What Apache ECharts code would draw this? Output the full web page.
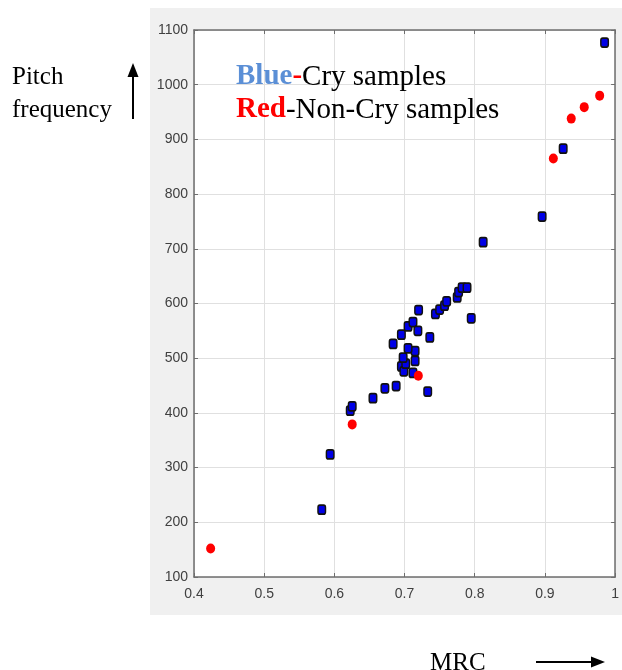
<!DOCTYPE html>
<html>
<head>
<meta charset="utf-8">
<script src="https://cdn.jsdelivr.net/npm/echarts@6/dist/echarts.min.js"></script>
<style>
html,body{margin:0;padding:0;background:#fff;}
#c{width:622px;height:670px;}
</style>
</head>
<body>
<div id="c"></div>
<script>
// Cry samples (blue)
const cryMRC   = [0.582,0.594,0.6226,0.6254,0.655,0.672,0.688,0.733,0.6955,0.699,0.7017,0.698,0.712,0.715,0.715,0.705,0.6837,0.6955,0.705,0.712,0.719,0.736,0.72,0.744,0.75,0.757,0.76,0.775,0.777,0.782,0.789,0.795,0.812,0.896,0.926,0.985];
const cryPitch = [223,324,404,412,427,445,449,439,485,476,490,501,473,495,513,518,526,543,558,566,550,538,588,581,589,596,604,611,621,629,629,573,712,759,883,1077];
// Non-Cry samples (red)
const nonCryMRC   = [0.4237,0.6254,0.7196,0.912,0.9375,0.956,0.978];
const nonCryPitch = [152,379,468,865,938,959,980];
// Axis ticks
const xTicks = [0.4,0.5,0.6,0.7,0.8,0.9,1];
const yTicks = [100,200,300,400,500,600,700,800,900,1000,1100];

const cryData = cryMRC.map((x,i)=>[x,cryPitch[i]]);
const nonCryData = nonCryMRC.map((x,i)=>[x,nonCryPitch[i]]);

const chart = echarts.init(document.getElementById('c'));
const axisCol = '#6e6e6e';
const serif = 'Liberation Serif, serif';
const labelStyle = {color:'#404040', fontFamily:'Liberation Sans, Arial, sans-serif', fontSize:14};
const fmtX = v => { const r = Math.round(v*10)/10; return xTicks.indexOf(r) >= 0 ? (r===1?'1':r.toFixed(1)) : ''; };

chart.setOption({
  animation:false,
  backgroundColor:'#ffffff',
  graphic:[
    {type:'rect', z:-10, shape:{x:150,y:8,width:472,height:607}, style:{fill:'#f0f0f0'}},
    // Legend-like annotation
    {type:'text', z:100, x:236, y:77, style:{
      text:'{b|Blue}{d|-}{n|Cry samples}', verticalAlign:'middle',
      rich:{
        b:{fontFamily:serif, fontSize:29, fontWeight:'bold', fill:'#5b8fd6'},
        d:{fontFamily:serif, fontSize:29, fontWeight:'bold', fill:'#ff0000'},
        n:{fontFamily:serif, fontSize:29, fill:'#000'}
      }}},
    {type:'text', z:100, x:236, y:110, style:{
      text:'{r|Red}{n|-Non-Cry samples}', verticalAlign:'middle',
      rich:{
        r:{fontFamily:serif, fontSize:29, fontWeight:'bold', fill:'#ff0000'},
        n:{fontFamily:serif, fontSize:29, fill:'#000'}
      }}},
    // Y axis title with arrow
    {type:'text', x:12, y:77, style:{text:'Pitch', verticalAlign:'middle', fontFamily:serif, fontSize:25, fill:'#000'}},
    {type:'text', x:12, y:110, style:{text:'frequency', verticalAlign:'middle', fontFamily:serif, fontSize:25, fill:'#000'}},
    {type:'line', shape:{x1:133,y1:74,x2:133,y2:119}, style:{stroke:'#000', lineWidth:2}},
    {type:'polygon', shape:{points:[[127.5,77],[138.5,77],[133,63]]}, style:{fill:'#000'}},
    // X axis title with arrow
    {type:'text', x:430, y:663, style:{text:'MRC', verticalAlign:'middle', fontFamily:serif, fontSize:25, fill:'#000'}},
    {type:'line', shape:{x1:536,y1:662,x2:594,y2:662}, style:{stroke:'#000', lineWidth:2}},
    {type:'polygon', shape:{points:[[591,656.5],[591,667.5],[605,662]]}, style:{fill:'#000'}}
  ],
  grid:{left:194, right:5, top:30, bottom:93, show:true, backgroundColor:'#ffffff', borderWidth:0},
  xAxis:[
    {type:'value', min:0.4, max:1, interval:0.1, position:'bottom',
     axisLine:{show:true, onZero:false, lineStyle:{color:axisCol, width:1.5}},
     axisTick:{show:true, inside:true, length:4, lineStyle:{color:axisCol}},
     splitLine:{show:true, lineStyle:{color:'#e0e0e0', width:1}},
     axisLabel:Object.assign({formatter:fmtX, margin:10}, labelStyle)},
    {type:'value', min:0.4, max:1, interval:0.1, position:'top',
     axisLine:{show:true, onZero:false, lineStyle:{color:axisCol, width:1.5}},
     axisTick:{show:true, inside:true, length:4, lineStyle:{color:axisCol}},
     splitLine:{show:false}, axisLabel:{show:false}}
  ],
  yAxis:[
    {type:'value', min:100, max:1100, interval:100, position:'left',
     axisLine:{show:true, onZero:false, lineStyle:{color:axisCol, width:1.5}},
     axisTick:{show:true, inside:true, length:4, lineStyle:{color:axisCol}},
     splitLine:{show:true, lineStyle:{color:'#e0e0e0', width:1}},
     axisLabel:Object.assign({margin:6, formatter:v=>yTicks.indexOf(v)>=0?String(v):''}, labelStyle)},
    {type:'value', min:100, max:1100, interval:100, position:'right',
     axisLine:{show:true, onZero:false, lineStyle:{color:axisCol, width:1.5}},
     axisTick:{show:true, inside:true, length:4, lineStyle:{color:axisCol}},
     splitLine:{show:false}, axisLabel:{show:false}}
  ],
  series:[
    {name:'Cry', type:'scatter', data:cryData, symbol:'roundRect', symbolSize:[7.5,9],
     itemStyle:{color:'#0000e6', borderColor:'#111', borderWidth:1.6, opacity:1}, z:3},
    {name:'Non-Cry', type:'scatter', data:nonCryData, symbol:'circle', symbolSize:[9,10],
     itemStyle:{color:'#ff0000', opacity:1}, z:4}
  ]
});
</script>
</body>
</html>
